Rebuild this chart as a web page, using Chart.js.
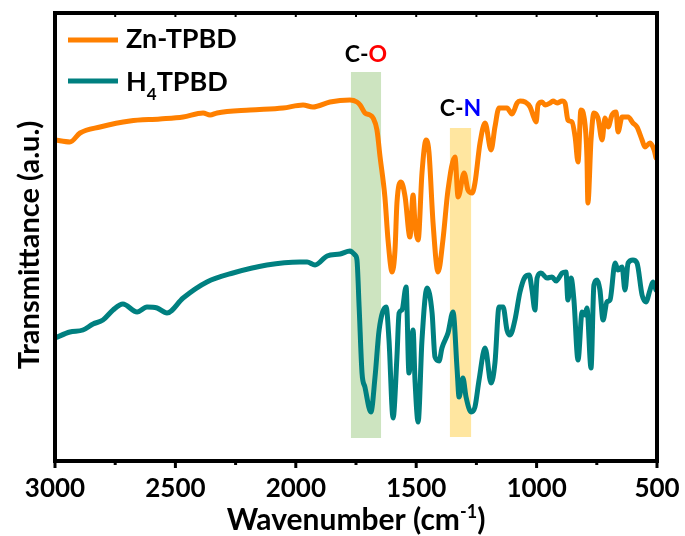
<!DOCTYPE html>
<html>
<head>
<meta charset="utf-8">
<script src="https://cdn.jsdelivr.net/npm/chart.js@4.4.0/dist/chart.umd.min.js"></script>
<style>
  body { margin: 0; background: #fff; }
  #wrap { width: 685px; height: 536px; }
</style>
</head>
<body>
<div id="wrap"><canvas id="ftirChart" width="685" height="536"></canvas></div>
<script>
// FTIR spectra, wavenumber axis runs 3000 -> 500
const xTickValues = [3000, 2500, 2000, 1500, 1000, 500];

const znWavenumber = [3000, 2938, 2896, 2813, 2689, 2564, 2468, 2385, 2356, 2327, 2190, 2053, 1970, 1929, 1858, 1775, 1746, 1733, 1713, 1692,
  1679, 1663, 1650, 1630, 1617, 1600, 1588, 1580, 1563, 1546, 1526, 1513, 1505, 1492, 1476, 1459, 1447, 1430, 1409, 1389,
  1368, 1339, 1326, 1301, 1285, 1268, 1256, 1235, 1214, 1189, 1173, 1156, 1123, 1102, 1081, 1069, 1048, 1027, 1015, 1002,
  994, 977, 965, 944, 932, 915, 894, 882, 870, 853, 840, 828, 816, 803, 791, 787, 774, 762, 745, 728,
  716, 703, 687, 670, 662, 645, 620, 600, 583, 562, 550, 529, 512, 504];
const znTransmittance = [322, 320, 329, 335, 341, 343, 345, 349, 347, 349, 352, 354, 357, 355, 360, 362, 360, 357, 349, 347,
  344, 332, 305, 265, 222, 190, 212, 259, 280, 265, 225, 267, 239, 222, 289, 322, 310, 239, 190, 222,
  272, 305, 265, 289, 272, 269, 279, 319, 339, 312, 335, 354, 354, 348, 359, 361, 360, 355, 347, 340,
  357, 360, 357, 359, 361, 359, 361, 359, 342, 340, 325, 300, 352, 345, 305, 259, 322, 349, 344, 322,
  344, 335, 347, 350, 330, 345, 345, 339, 335, 322, 315, 319, 312, 304];

const h4Wavenumber = [3000, 2938, 2884, 2842, 2801, 2759, 2718, 2659, 2618, 2576, 2535, 2468, 2369, 2261, 2120, 1983, 1953, 1920, 1870, 1816,
  1775, 1767, 1754, 1746, 1737, 1725, 1713, 1688, 1671, 1654, 1625, 1613, 1596, 1580, 1571, 1559, 1542, 1530, 1513, 1505,
  1492, 1476, 1455, 1434, 1422, 1405, 1393, 1368, 1347, 1330, 1322, 1306, 1293, 1272, 1256, 1239, 1214, 1189, 1173, 1156,
  1139, 1123, 1110, 1090, 1069, 1048, 1031, 1019, 1007, 998, 982, 957, 936, 919, 894, 878, 870, 857, 845, 828,
  811, 799, 791, 774, 762, 749, 737, 724, 708, 695, 674, 662, 645, 633, 620, 600, 583, 562, 546, 529,
  517, 504];
const h4Transmittance = [124, 130, 132, 138, 142, 152, 158, 150, 155, 154, 149, 164, 180, 189, 197, 200, 200, 197, 206, 208,
  211, 210, 207, 202, 155, 89, 75, 50, 85, 132, 155, 122, 44, 105, 149, 152, 175, 89, 132, 82,
  40, 122, 174, 149, 105, 101, 114, 129, 150, 92, 65, 84, 65, 50, 55, 82, 114, 79, 99, 155,
  155, 132, 127, 142, 170, 185, 187, 172, 152, 184, 189, 184, 185, 181, 189, 190, 162, 184, 162, 102,
  150, 147, 154, 94, 177, 182, 172, 142, 160, 162, 199, 192, 195, 172, 199, 202, 199, 167, 160, 172,
  180, 172];

// highlighted bands: [from, to] wavenumber, [low, high] transmittance
const coBand = [1771, 1646];
const coBandY = [24, 390];
const cnBand = [1360, 1272];
const cnBandY = [25, 334];

const orange = '#ff8000';
const teal = '#008080';
const FONT = 'Lato, "Open Sans", sans-serif';

function toPoints(xs, ys) {
  return xs.map((x, i) => ({ x: x, y: ys[i] }));
}

// draw a run of text pieces (sub/superscripts, coloured letters)
function drawRuns(ctx, runs, x, y, align) {
  let total = 0;
  runs.forEach(r => {
    ctx.font = '700 ' + r.size + 'px ' + FONT;
    r.w = ctx.measureText(r.text).width;
    total += r.w;
  });
  let cx = align === 'center' ? x - total / 2 : x;
  runs.forEach(r => {
    ctx.font = '700 ' + r.size + 'px ' + FONT;
    ctx.fillStyle = r.color || '#000';
    ctx.fillText(r.text, cx, y + (r.dy || 0));
    cx += r.w;
  });
}

const decorations = {
  id: 'decorations',
  beforeDatasetsDraw(chart) {
    const { ctx, scales: { x, y } } = chart;
    ctx.save();
    ctx.fillStyle = '#cde4c0';
    ctx.fillRect(x.getPixelForValue(coBand[0]), y.getPixelForValue(coBandY[1]),
      x.getPixelForValue(coBand[1]) - x.getPixelForValue(coBand[0]),
      y.getPixelForValue(coBandY[0]) - y.getPixelForValue(coBandY[1]));
    ctx.fillStyle = '#ffe6a0';
    ctx.fillRect(x.getPixelForValue(cnBand[0]), y.getPixelForValue(cnBandY[1]),
      x.getPixelForValue(cnBand[1]) - x.getPixelForValue(cnBand[0]),
      y.getPixelForValue(cnBandY[0]) - y.getPixelForValue(cnBandY[1]));
    ctx.restore();
  },
  afterDraw(chart) {
    const { ctx, chartArea: a, scales: { x, y } } = chart;
    ctx.save();

    // frame
    ctx.strokeStyle = '#000';
    ctx.lineWidth = 4;
    ctx.strokeRect(a.left, a.top, a.right - a.left, a.bottom - a.top);

    // tick marks
    for (let v = 3000; v >= 500; v -= 250) {
      const px = x.getPixelForValue(v);
      const major = v % 500 === 0;
      ctx.lineWidth = 3;
      ctx.beginPath();
      ctx.moveTo(px, a.bottom);
      ctx.lineTo(px, a.bottom + (major ? 7 : 4));
      ctx.stroke();
      ctx.lineWidth = 2;
      ctx.beginPath();
      ctx.moveTo(px, a.top);
      ctx.lineTo(px, a.top + 4);
      ctx.stroke();
    }

    ctx.textBaseline = 'alphabetic';
    ctx.textAlign = 'left';

    // legend
    ctx.lineWidth = 5;
    ctx.strokeStyle = orange;
    ctx.beginPath(); ctx.moveTo(68, 40); ctx.lineTo(118, 40); ctx.stroke();
    ctx.strokeStyle = teal;
    ctx.beginPath(); ctx.moveTo(68, 81); ctx.lineTo(118, 81); ctx.stroke();
    drawRuns(ctx, [{ text: 'Zn-TPBD', size: 27 }], 126, 48, 'left');
    drawRuns(ctx, [{ text: 'H', size: 27 }, { text: '4', size: 17, dy: 9 }, { text: 'TPBD', size: 27 }], 126, 91, 'left');

    // band labels
    const coX = (x.getPixelForValue(coBand[0]) + x.getPixelForValue(coBand[1])) / 2;
    const cnX = (x.getPixelForValue(cnBand[0]) + x.getPixelForValue(cnBand[1])) / 2;
    drawRuns(ctx, [{ text: 'C-', size: 23 }, { text: 'O', size: 23, color: '#ff0000' }], coX, 62, 'center');
    drawRuns(ctx, [{ text: 'C-', size: 23 }, { text: 'N', size: 23, color: '#0000ff' }], cnX, 116, 'center');

    // x title
    drawRuns(ctx, [{ text: 'Wavenumber (cm', size: 30 }, { text: '-1', size: 18, dy: -12 }, { text: ')', size: 30 }],
      (a.left + a.right) / 2, 530, 'center');

    // y title
    ctx.translate(39, 245);
    ctx.rotate(-Math.PI / 2);
    drawRuns(ctx, [{ text: 'Transmittance (a.u.)', size: 29 }], 0, 0, 'center');

    ctx.restore();
  }
};

new Chart(document.getElementById('ftirChart'), {
  type: 'line',
  data: {
    datasets: [{
      label: 'Zn-TPBD',
      data: toPoints(znWavenumber, znTransmittance),
      borderColor: orange,
      borderWidth: 5,
      pointRadius: 0,
      cubicInterpolationMode: 'monotone',
      borderJoinStyle: 'round',
      borderCapStyle: 'round',
      fill: false
    }, {
      label: 'H4TPBD',
      data: toPoints(h4Wavenumber, h4Transmittance),
      borderColor: teal,
      borderWidth: 5,
      pointRadius: 0,
      cubicInterpolationMode: 'monotone',
      borderJoinStyle: 'round',
      borderCapStyle: 'round',
      fill: false
    }]
  },
  options: {
    responsive: false,
    animation: false,
    layout: { padding: { top: 13, right: 28, bottom: 0, left: 0 } },
    plugins: {
      legend: { display: false },
      tooltip: { enabled: false }
    },
    scales: {
      x: {
        type: 'linear',
        reverse: true,
        min: 500,
        max: 3000,
        afterFit(scale) {
          scale.height = 75;
          scale.paddingLeft = 0;
          scale.paddingRight = 0;
        },
        afterBuildTicks(scale) { scale.ticks = xTickValues.map(v => ({ value: v })); },
        grid: { display: false, drawTicks: false },
        border: { display: false },
        ticks: {
          color: '#000',
          font: { family: FONT, size: 26, weight: 'bold' },
          padding: 12,
          maxRotation: 0,
          autoSkip: false,
          callback: v => String(v)
        }
      },
      y: {
        min: 1,
        max: 449,
        afterFit(scale) { scale.width = 55; },
        grid: { display: false, drawTicks: false },
        border: { display: false },
        ticks: { display: false }
      }
    }
  },
  plugins: [decorations]
});
</script>
</body>
</html>
